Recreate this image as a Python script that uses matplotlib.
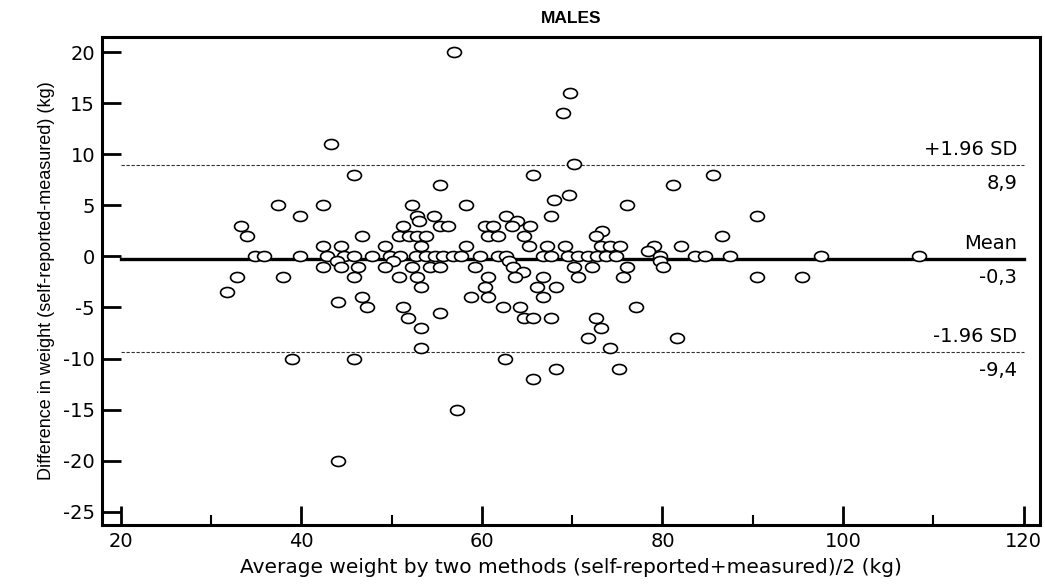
import numpy as np
import matplotlib.pyplot as plt
from matplotlib.path import Path
from matplotlib.transforms import Affine2D

plt.rcParams['font.family'] = ['DejaVu Sans']
plt.rcParams['axes.unicode_minus'] = False

# average weight (kg) and difference (kg)
avg = [56.9, 69.7, 69.0, 43.3, 70.2, 45.8, 65.7, 85.6, 55.3, 81.2, 69.6, 68.0,
       37.35, 42.4, 52.3, 58.2, 76.1,
       39.8, 52.8, 54.7, 62.7, 67.7, 90.5,
       53.0, 63.9,
       33.3, 51.3, 55.3, 56.25, 60.3, 61.2, 63.3, 65.3,
       73.3,
       33.95, 46.7, 50.8, 51.9, 52.8, 53.85, 60.7, 61.8, 64.7, 72.6, 86.6,
       42.4, 44.4, 49.3, 53.2, 58.2, 65.2, 67.2, 69.2, 73.2, 74.2, 75.3, 79.1, 82.1,
       78.4,
       34.8, 35.9, 39.8, 42.8, 44.7, 45.8, 47.8, 49.8, 50.9, 52.7, 53.85, 54.8,
       55.7, 56.8, 57.7, 59.75, 61.8, 62.7, 66.8, 67.7, 69.5, 70.6, 71.75, 72.7,
       73.7, 74.8, 79.7, 83.6, 84.7, 87.5, 97.6, 108.4,
       43.9, 50.1, 63.0, 79.7,
       42.4, 44.4, 46.3, 49.3, 52.3, 54.2, 55.3, 59.2, 63.4, 70.2, 72.2, 76.1, 80.1,
       64.5,
       32.9, 37.9, 45.8, 50.8, 52.8, 60.7, 63.7, 66.8, 70.6, 75.6, 90.5, 95.5,
       53.2, 60.3, 66.1, 68.2,
       31.7,
       46.7, 58.8, 60.7, 66.8,
       44.0,
       47.3, 51.3, 62.3, 64.2, 77.1,
       55.4,
       51.8, 64.7, 65.7, 67.7, 72.6,
       53.2, 73.2,
       71.75, 81.6,
       53.2, 74.15,
       38.9, 45.8, 62.6,
       68.2, 75.15,
       65.7,
       57.2,
       44.0]
diff = [20, 16, 14, 11, 9, 8, 8, 8, 7, 7, 6, 5.5,
        5, 5, 5, 5, 5,
        4, 4, 4, 4, 4, 4,
        3.5, 3.5,
        3, 3, 3, 3, 3, 3, 3, 3,
        2.5,
        2, 2, 2, 2, 2, 2, 2, 2, 2, 2, 2,
        1, 1, 1, 1, 1, 1, 1, 1, 1, 1, 1, 1, 1,
        0.5,
        0, 0, 0, 0, 0, 0, 0, 0, 0, 0, 0, 0,
        0, 0, 0, 0, 0, 0, 0, 0, 0, 0, 0, 0,
        0, 0, 0, 0, 0, 0, 0, 0,
        -0.5, -0.5, -0.5, -0.5,
        -1, -1, -1, -1, -1, -1, -1, -1, -1, -1, -1, -1, -1,
        -1.5,
        -2, -2, -2, -2, -2, -2, -2, -2, -2, -2, -2, -2,
        -3, -3, -3, -3,
        -3.5,
        -4, -4, -4, -4,
        -4.5,
        -5, -5, -5, -5, -5,
        -5.5,
        -6, -6, -6, -6, -6,
        -7, -7,
        -8, -8,
        -9, -9,
        -10, -10, -10,
        -11, -11,
        -12,
        -15,
        -20]

mean_diff = -0.3
upper = 8.9
lower = -9.4
line_labels = ['+1.96 SD', 'Mean', '-1.96 SD']
line_values = ['8,9', '-0,3', '-9,4']

# circles in the original look a bit wider than tall
ellipse = Path.unit_circle().transformed(Affine2D().scale(1.0, 0.72))

fig = plt.figure(figsize=(10.45, 5.84), dpi=100)
ax = fig.add_axes([0.0976, 0.101, 0.8974, 0.836])

ax.plot(avg, diff, linestyle='none', marker=ellipse, ms=10,
        mfc='white', mec='black', mew=1.2, zorder=3)

ax.plot([20, 120], [mean_diff, mean_diff], color='black', lw=2.4, zorder=2)
for yv in (upper, lower):
    ax.plot([20, 120], [yv, yv], color='#333333', lw=0.8,
            linestyle=(0, (3, 1.5)), zorder=2)

for lab, val, yv in zip(line_labels, line_values, [upper, mean_diff, lower]):
    ax.text(119.3, yv + 0.6, lab, ha='right', va='bottom', fontsize=14)
    ax.text(119.3, yv - 0.8, val, ha='right', va='top', fontsize=14)

ax.set_xlim(17.9, 121.8)
ax.set_ylim(-26.3, 21.5)
ax.set_xticks([20, 40, 60, 80, 100, 120])
ax.set_xticks([30, 50, 70, 90, 110], minor=True)
ax.set_yticks(np.arange(-25, 21, 5))

ax.tick_params(axis='both', which='major', direction='in', length=14,
               width=2, labelsize=14, pad=5)
ax.tick_params(axis='x', which='minor', direction='in', length=7, width=1.5)
for s in ax.spines.values():
    s.set_linewidth(2.2)

ax.set_title('MALES', fontsize=12.5, fontweight='bold', pad=10,
             family='Liberation Sans')
ax.set_xlabel('Average weight by two methods (self-reported+measured)/2 (kg)',
              fontsize=14.5, labelpad=5)
ax.set_ylabel('Difference in weight (self-reported-measured) (kg)',
              fontsize=13, labelpad=6, family='Liberation Sans')

fig.savefig('out.png', dpi=100)
